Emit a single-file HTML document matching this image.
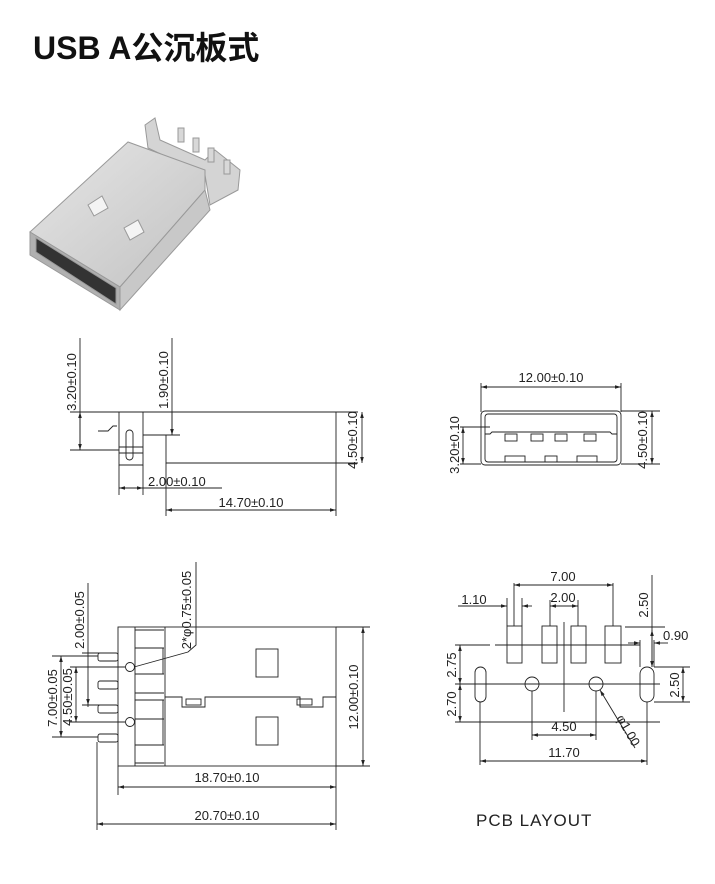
<!DOCTYPE html>
<html><head><meta charset="utf-8"><style>
body{margin:0;background:#fff;width:715px;height:884px;overflow:hidden}
svg{display:block}
text{font-family:"Liberation Sans","Noto Sans CJK SC",sans-serif;fill:#222}
</style></head><body>
<svg width="715" height="884" viewBox="0 0 715 884" xmlns="http://www.w3.org/2000/svg">
<defs>
<marker id="a" viewBox="0 0 10 6" refX="10" refY="3" markerWidth="8" markerHeight="4" orient="auto-start-reverse"><path d="M0,0L10,3L0,6z" fill="#222"/></marker>
<linearGradient id="g1" x1="0" y1="0" x2="1" y2="1"><stop offset="0" stop-color="#e6e6e6"/><stop offset="1" stop-color="#c2c2c2"/></linearGradient>
</defs>
<text x="33" y="59" font-size="32" font-weight="bold" style="fill:#111">USB A公沉板式</text>

<!-- photo -->
<g stroke="#999" stroke-width="1">
<polygon points="145,125 155,118 160,140 205,160 215,150 240,170 238,190 210,205 205,175 148,148" fill="#d4d4d4"/>
<polygon points="30,232 128,142 205,170 205,190 120,287" fill="url(#g1)"/>
<polygon points="30,232 120,287 120,310 30,255" fill="#b0b0b0"/>
<polygon points="36,238 116,288 116,304 36,252" fill="#333"/>
<polygon points="120,287 205,190 210,210 120,310" fill="#c8c8c8"/>
<polygon points="88,205 102,196 108,208 94,216" fill="#f4f4f4"/>
<polygon points="124,228 138,220 144,232 130,240" fill="#f4f4f4"/>
</g>
<g stroke="#999" fill="#d8d8d8"><rect x="178" y="128" width="6" height="14"/><rect x="193" y="138" width="6" height="14"/><rect x="208" y="148" width="6" height="14"/><rect x="224" y="160" width="6" height="14"/></g>

<g stroke="#222" stroke-width="0.9" fill="none">
<!-- side view -->
<line x1="80" y1="338" x2="80" y2="450"/>
<line x1="80" y1="412" x2="80" y2="450" marker-start="url(#a)" marker-end="url(#a)"/>
<line x1="70" y1="412" x2="119" y2="412"/>
<line x1="70" y1="450" x2="119" y2="450"/>
<path d="M119,412H358 M119,412V465H143V412 M143,435H180 M166,435V463H336 M336,412V463 M336,463H358"/>
<path d="M119,447H143 M119,453H143"/>
<rect x="126" y="430" width="7" height="30" rx="3.5"/>
<path d="M98,431H108L113,426H117"/>
<line x1="172" y1="338" x2="172" y2="435"/>
<line x1="172" y1="412" x2="172" y2="435" marker-end="url(#a)"/>
<line x1="362" y1="412" x2="362" y2="463" marker-start="url(#a)" marker-end="url(#a)"/>
<line x1="119" y1="465" x2="119" y2="495"/><line x1="143" y1="465" x2="143" y2="495"/>
<line x1="119" y1="488" x2="143" y2="488" marker-start="url(#a)" marker-end="url(#a)"/>
<line x1="143" y1="488" x2="222" y2="488"/>
<line x1="166" y1="463" x2="166" y2="516"/><line x1="336" y1="463" x2="336" y2="516"/>
<line x1="166" y1="510" x2="336" y2="510" marker-start="url(#a)" marker-end="url(#a)"/>

<!-- front view -->
<line x1="481" y1="383" x2="481" y2="412"/><line x1="621" y1="383" x2="621" y2="412"/>
<line x1="481" y1="387" x2="621" y2="387" marker-start="url(#a)" marker-end="url(#a)"/>
<rect x="481" y="411" width="140" height="54" rx="4"/>
<rect x="485" y="414" width="132" height="48" rx="3"/>
<path d="M485,434H490L492,432H610L612,434H617"/>
<rect x="505" y="434" width="12" height="7"/><rect x="531" y="434" width="12" height="7"/><rect x="555" y="434" width="12" height="7"/><rect x="584" y="434" width="12" height="7"/>
<rect x="505" y="456" width="20" height="6"/><rect x="545" y="456" width="12" height="6"/><rect x="577" y="456" width="20" height="6"/>
<line x1="460" y1="427" x2="490" y2="427"/><line x1="460" y1="464" x2="481" y2="464"/>
<line x1="463" y1="427" x2="463" y2="464" marker-start="url(#a)" marker-end="url(#a)"/>
<line x1="621" y1="411" x2="660" y2="411"/><line x1="621" y1="464" x2="660" y2="464"/>
<line x1="652" y1="411" x2="652" y2="464" marker-start="url(#a)" marker-end="url(#a)"/>

<!-- bottom view -->
<rect x="118" y="627" width="218" height="139"/>
<line x1="135" y1="627" x2="135" y2="766"/><line x1="165" y1="627" x2="165" y2="766"/>
<path d="M135,648H164 M135,674H164 M135,693H164 M135,700H164 M135,719H164 M135,745H164 M163,648V674 M163,700V745"/>
<path d="M135,630H164 M135,763H164"/>
<path d="M165,697H182V707H205V697H300V707H323V697H336"/>
<rect x="186" y="699" width="15" height="6"/><rect x="297" y="699" width="15" height="6"/>
<rect x="256" y="649" width="22" height="28"/><rect x="256" y="717" width="22" height="28"/>
<rect x="98" y="653" width="20" height="8" rx="2"/><rect x="98" y="681" width="20" height="8" rx="2"/><rect x="98" y="705" width="20" height="8" rx="2"/><rect x="98" y="734" width="20" height="8" rx="2"/>
<circle cx="130" cy="667" r="4.5"/><circle cx="130" cy="722" r="4.5"/>
<path d="M134,667L188,652L196,645V562"/>
<line x1="336" y1="627" x2="370" y2="627"/><line x1="336" y1="766" x2="370" y2="766"/>
<line x1="363" y1="627" x2="363" y2="766" marker-start="url(#a)" marker-end="url(#a)"/>
<line x1="118" y1="766" x2="118" y2="795"/><line x1="336" y1="766" x2="336" y2="830"/>
<line x1="118" y1="787" x2="336" y2="787" marker-start="url(#a)" marker-end="url(#a)"/>
<line x1="97" y1="742" x2="97" y2="830"/>
<line x1="97" y1="824" x2="336" y2="824" marker-start="url(#a)" marker-end="url(#a)"/>
<line x1="88" y1="583" x2="88" y2="707"/>
<line x1="82" y1="653" x2="110" y2="653"/><line x1="82" y1="705" x2="110" y2="705"/>
<line x1="88" y1="680" x2="88" y2="705" marker-end="url(#a)"/>
<line x1="52" y1="656" x2="98" y2="656"/><line x1="52" y1="737" x2="98" y2="737"/>
<line x1="61" y1="656" x2="61" y2="737" marker-start="url(#a)" marker-end="url(#a)"/>
<line x1="70" y1="667" x2="125" y2="667"/><line x1="70" y1="722" x2="125" y2="722"/>
<line x1="76" y1="667" x2="76" y2="722" marker-start="url(#a)" marker-end="url(#a)"/>

<!-- PCB -->
<rect x="507" y="626" width="15" height="37"/><rect x="542" y="626" width="15" height="37"/><rect x="571" y="626" width="15" height="37"/><rect x="605" y="626" width="16" height="37"/>
<rect x="475" y="667" width="11" height="35" rx="5.5"/><rect x="640" y="667" width="14" height="35" rx="7"/>
<circle cx="532" cy="684" r="7"/><circle cx="596" cy="684" r="7"/>
<line x1="455" y1="684" x2="660" y2="684"/>
<line x1="455" y1="645" x2="490" y2="645"/><line x1="495" y1="645" x2="640" y2="645"/>
<line x1="455" y1="722" x2="660" y2="722"/>
<line x1="564" y1="622" x2="564" y2="712"/>
<line x1="460" y1="645" x2="460" y2="684" marker-start="url(#a)" marker-end="url(#a)"/>
<line x1="460" y1="684" x2="460" y2="722" marker-start="url(#a)" marker-end="url(#a)"/>
<line x1="514" y1="583" x2="514" y2="626"/><line x1="613" y1="583" x2="613" y2="626"/>
<line x1="514" y1="585" x2="613" y2="585" marker-start="url(#a)" marker-end="url(#a)"/>
<line x1="507" y1="598" x2="507" y2="626"/><line x1="522" y1="598" x2="522" y2="626"/>
<line x1="458" y1="606" x2="507" y2="606" marker-end="url(#a)"/><line x1="532" y1="606" x2="522" y2="606" marker-end="url(#a)"/>
<line x1="550" y1="600" x2="550" y2="626"/><line x1="578" y1="600" x2="578" y2="626"/>
<line x1="550" y1="606" x2="578" y2="606" marker-start="url(#a)" marker-end="url(#a)"/>
<line x1="625" y1="627" x2="665" y2="627"/><line x1="652" y1="575" x2="652" y2="667" /><line x1="652" y1="630" x2="652" y2="667" marker-start="url(#a)" marker-end="url(#a)"/>
<line x1="640" y1="640" x2="640" y2="667"/><line x1="654" y1="640" x2="654" y2="667"/>
<line x1="628" y1="643" x2="640" y2="643" marker-end="url(#a)"/><line x1="668" y1="643" x2="654" y2="643" marker-end="url(#a)"/>
<line x1="654" y1="667" x2="690" y2="667"/><line x1="654" y1="702" x2="690" y2="702"/>
<line x1="683" y1="667" x2="683" y2="702" marker-start="url(#a)" marker-end="url(#a)"/>
<line x1="532" y1="691" x2="532" y2="740"/><line x1="596" y1="691" x2="596" y2="740"/>
<line x1="532" y1="735" x2="596" y2="735" marker-start="url(#a)" marker-end="url(#a)"/>
<line x1="480" y1="702" x2="480" y2="765"/><line x1="647" y1="702" x2="647" y2="765"/>
<line x1="480" y1="761" x2="647" y2="761" marker-start="url(#a)" marker-end="url(#a)"/>
<line x1="635" y1="748" x2="600" y2="690" marker-end="url(#a)"/>
</g>

<g font-size="13">
<text transform="translate(76,382) rotate(-90)" text-anchor="middle">3.20±0.10</text>
<text transform="translate(168,380) rotate(-90)" text-anchor="middle">1.90±0.10</text>
<text transform="translate(357,440) rotate(-90)" text-anchor="middle">4.50±0.10</text>
<text x="148" y="486">2.00±0.10</text>
<text x="251" y="507" text-anchor="middle">14.70±0.10</text>
<text x="551" y="382" text-anchor="middle">12.00±0.10</text>
<text transform="translate(459,445) rotate(-90)" text-anchor="middle">3.20±0.10</text>
<text transform="translate(647,440) rotate(-90)" text-anchor="middle">4.50±0.10</text>
<text transform="translate(191,610) rotate(-90)" text-anchor="middle">2*φ0.75±0.05</text>
<text transform="translate(84,620) rotate(-90)" text-anchor="middle">2.00±0.05</text>
<text transform="translate(57,698) rotate(-90)" text-anchor="middle">7.00±0.05</text>
<text transform="translate(72,697) rotate(-90)" text-anchor="middle">4.50±0.05</text>
<text transform="translate(358,697) rotate(-90)" text-anchor="middle">12.00±0.10</text>
<text x="227" y="782" text-anchor="middle">18.70±0.10</text>
<text x="227" y="820" text-anchor="middle">20.70±0.10</text>
<text x="563" y="581" text-anchor="middle">7.00</text>
<text x="563" y="602" text-anchor="middle">2.00</text>
<text x="474" y="604" text-anchor="middle">1.10</text>
<text transform="translate(648,605) rotate(-90)" text-anchor="middle">2.50</text>
<text x="663" y="640">0.90</text>
<text transform="translate(679,685) rotate(-90)" text-anchor="middle">2.50</text>
<text transform="translate(456,665) rotate(-90)" text-anchor="middle">2.75</text>
<text transform="translate(456,704) rotate(-90)" text-anchor="middle">2.70</text>
<text x="564" y="731" text-anchor="middle">4.50</text>
<text x="564" y="757" text-anchor="middle">11.70</text>
<text transform="translate(616,718) rotate(60)">φ1.00</text>
</g>
<text x="476" y="826" font-size="17" letter-spacing="1">PCB  LAYOUT</text>
</svg>
</body></html>
